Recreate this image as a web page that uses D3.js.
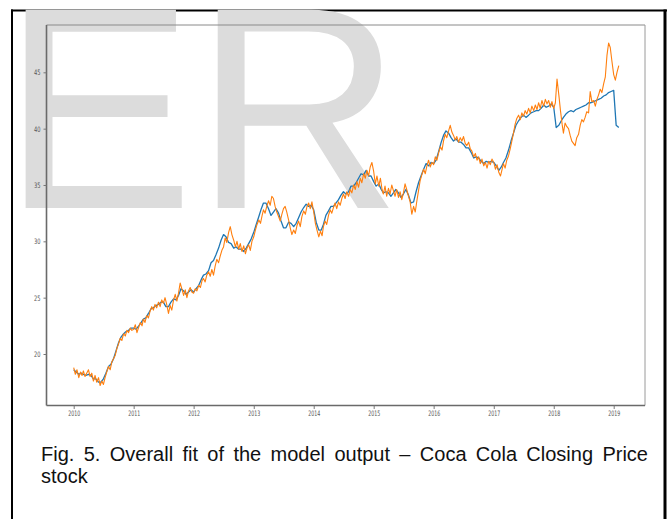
<!DOCTYPE html>
<html>
<head>
<meta charset="utf-8">
<script src="https://cdn.jsdelivr.net/npm/d3@7"></script>
<style>
  body { margin: 0; background: #fff; }
  svg { display: block; }
</style>
</head>
<body>
<svg id="chart" width="667" height="519"></svg>
<script>
// ---- data -------------------------------------------------------------
const yearTicks = [2010, 2011, 2012, 2013, 2014, 2015, 2016, 2017, 2018, 2019];
const priceTicks = [20, 25, 30, 35, 40, 45];

// closing price, sampled on the 1st, 11th and 21st of each month (Jan 2010 – Feb 2019)
const actualClose = [
  // 2010
  18.8, 18.2, 18.6, 17.9, 18.4, 18.1, 18.5, 18.0, 18.3, 18.6, 18.0, 18.3,
  17.6, 18.1, 17.5, 17.9, 17.2, 17.6, 17.3, 17.9, 18.4, 18.9, 18.6, 19.3,
  19.6, 19.9, 20.5, 20.9, 21.4, 21.2, 21.8, 21.6, 22.1, 21.9, 22.3, 22.1,
  // 2011
  22.2, 22.6, 21.9, 22.4, 22.8, 22.5, 23.1, 22.8, 23.4, 23.2, 23.8, 24.2,
  23.9, 24.4, 24.1, 24.6, 24.2, 24.8, 24.5, 25.0, 24.4, 23.6, 24.3, 23.9,
  24.8, 25.3, 24.7, 25.4, 26.3, 25.8, 25.2, 25.7, 25.0, 25.6, 25.9, 25.5,
  // 2012
  25.4, 25.8, 25.6, 26.1, 25.9, 26.5, 26.7, 26.4, 27.0, 27.3, 26.9, 27.5,
  27.0, 27.8, 28.4, 28.1, 28.7, 29.2, 29.5, 30.3, 29.9, 30.8, 31.3, 30.6,
  30.1, 29.5, 30.0, 29.3, 29.8, 29.1, 29.6, 28.9, 29.4, 29.7, 29.2, 30.0,
  // 2013
  30.4, 31.0, 31.5, 31.9, 31.6, 32.3, 32.8, 32.5, 33.1, 33.6, 33.2, 34.0,
  33.8, 33.1, 32.6, 32.2, 31.8, 32.4, 32.9, 33.1, 32.6, 31.9, 31.2, 30.6,
  31.0, 30.7, 31.4, 31.8, 31.3, 32.2, 32.7, 32.4, 33.1, 33.4, 32.9, 33.5,
  // 2014
  32.6, 31.6, 31.0, 30.4, 30.9, 30.5, 31.3, 31.8, 31.5, 32.3, 32.8, 32.5,
  33.0, 33.4, 32.9, 33.5, 33.2, 33.8, 34.2, 33.8, 34.4, 34.0, 34.6, 34.3,
  35.0, 34.6, 35.3, 34.8, 35.6, 35.2, 36.0, 35.6, 36.3, 35.8, 36.6, 37.0,
  // 2015
  36.2, 35.1, 35.8, 34.9, 35.6, 34.6, 34.2, 34.9, 34.0, 34.7, 34.2, 35.0,
  34.5, 34.0, 34.6, 33.9, 34.4, 33.7, 34.3, 35.1, 34.6, 34.0, 33.5, 32.4,
  33.1, 32.6, 33.6, 34.5, 35.4, 35.9, 36.4, 36.0, 36.7, 37.2, 36.6, 37.0,
  // 2016
  36.8, 37.5, 37.2, 37.9, 38.4, 38.1, 38.9, 39.5, 39.2, 39.8, 40.3, 39.7,
  39.4, 39.0, 39.3, 38.8, 39.2, 38.9, 39.3, 38.7, 38.5, 38.8, 38.2, 38.0,
  37.5, 37.8, 37.2, 37.5, 36.9, 37.3, 36.7, 37.0, 36.5, 37.1, 36.8, 37.3,
  // 2017
  37.0, 36.4, 36.8, 36.1, 35.8, 36.4, 36.9, 36.5, 37.2, 37.6, 38.2, 38.9,
  39.6, 40.4, 40.9, 41.2, 40.8, 41.4, 41.1, 41.6, 41.3, 41.8, 41.4, 42.0,
  41.6, 42.1, 41.7, 42.3, 41.8, 42.5, 42.0, 42.6, 42.2, 42.5, 41.9, 42.4,
  // 2018
  41.8, 42.3, 44.4, 43.0, 41.6, 40.4, 39.6, 40.5, 40.2, 40.0, 39.4, 38.9,
  38.7, 38.5, 39.2, 39.5, 40.3, 40.8, 40.6, 41.0, 41.5, 41.4, 43.3, 42.4,
  42.5, 42.0, 42.6, 43.0, 43.5, 43.2, 44.0, 44.6, 46.5, 47.6, 47.2, 46.0,
  // 2019
  44.8, 44.3, 45.0, 45.6
];

// model output, sampled on the 1st and 16th of each month
const modelOutput = [
  // 2010
  18.6, 18.4, 18.2, 18.3, 18.2, 18.1, 18.2, 18.1, 17.8, 17.8, 17.5, 17.5,
  17.8, 18.3, 18.9, 19.1, 19.6, 20.3, 21.0, 21.5, 21.8, 22.0, 22.1, 22.3,
  // 2011
  22.3, 22.2, 22.5, 22.8, 23.1, 23.2, 23.6, 24.0, 24.1, 24.3, 24.4, 24.6,
  24.6, 24.2, 24.2, 24.6, 24.9, 24.8, 25.2, 25.8, 25.6, 25.3, 25.5, 25.7,
  // 2012
  25.5, 25.8, 26.1, 26.6, 27.0, 27.1, 27.4, 28.1, 28.3, 28.8, 29.4, 30.1,
  30.6, 30.4, 29.9, 29.8, 29.4, 29.5, 29.3, 29.3, 29.1, 29.4, 29.8, 30.2,
  // 2013
  30.8, 31.5, 32.2, 32.9, 33.4, 33.4, 32.9, 32.3, 32.6, 32.9, 32.5, 31.8,
  31.2, 31.2, 31.7, 31.6, 31.3, 31.6, 32.1, 32.6, 33.0, 33.3, 33.1, 33.2,
  // 2014
  32.8, 31.7, 31.0, 31.0, 31.5, 32.3, 32.7, 33.1, 33.1, 33.4, 33.7, 34.1,
  34.4, 34.2, 34.4, 34.9, 34.9, 35.2, 35.6, 36.0, 35.9, 36.3, 35.8, 35.8,
  // 2015
  35.3, 34.9, 35.1, 34.6, 34.3, 34.4, 34.3, 34.0, 34.3, 34.6, 34.3, 33.9,
  34.2, 34.6, 34.1, 33.4, 33.5, 34.4, 35.2, 35.8, 36.4, 36.9, 36.7, 37.0,
  // 2016
  36.9, 37.2, 38.0, 38.8, 39.4, 39.8, 39.6, 39.2, 38.9, 39.1, 38.8, 38.8,
  38.6, 38.3, 38.3, 37.9, 37.4, 37.5, 37.4, 37.1, 36.9, 37.1, 37.0, 37.1,
  // 2017
  37.0, 36.7, 36.3, 36.6, 37.0, 37.4, 38.1, 38.9, 39.6, 40.3, 40.7, 41.0,
  41.2, 41.0, 41.2, 41.4, 41.5, 41.6, 41.6, 41.8, 42.1, 41.9, 42.0, 42.2,
  // 2018
  41.9, 40.1, 40.3, 40.7, 41.0, 41.3, 41.5, 41.6, 41.5, 41.7, 41.8, 41.9,
  42.0, 42.1, 42.3, 42.3, 42.4, 42.5, 42.6, 42.7, 42.9, 43.0, 43.2, 43.3,
  // 2019
  43.4, 40.3, 40.1
];

const captionLines = [
  "Fig. 5. Overall fit of the model output – Coca Cola Closing Price",
  "stock"
];
const watermarkText = "ER";

// sampling calendars for the two series
const lastDate = new Date(2019, 1, 1);
function sampleCalendar(days) {
  const out = [];
  for (let yr = 2010; yr <= 2019; yr++) {
    for (let m = 0; m < 12; m++) {
      for (const d of days) {
        const dt = new Date(yr, m, d);
        if (dt <= lastDate) out.push(dt);
      }
    }
  }
  return out;
}
const actualDates = sampleCalendar([1, 11, 21]);
const modelDates = sampleCalendar([1, 16]);

// ---- layout -----------------------------------------------------------
const svg = d3.select("#chart");
const plot = { left: 46.5, right: 645, top: 25, bottom: 405.5 };

const x = d3.scaleTime()
  .domain([new Date(2010, 0, 1), new Date(2019, 0, 1)])
  .range([73.7, 613.7]);
const y = d3.scaleLinear()
  .domain([15.43, 49.2])
  .range([plot.bottom, plot.top]);

// outer page frame
svg.append("line").attr("x1", 11).attr("x2", 667).attr("y1", 10.5).attr("y2", 10.5)
  .attr("stroke", "#000").attr("stroke-width", 2);
svg.append("line").attr("x1", 12).attr("x2", 12).attr("y1", 9.5).attr("y2", 519)
  .attr("stroke", "#000").attr("stroke-width", 2);
svg.append("line").attr("x1", 665).attr("x2", 665).attr("y1", 9.5).attr("y2", 519)
  .attr("stroke", "#000").attr("stroke-width", 3);

// large grey watermark behind the plot
svg.append("text")
  .attr("x", 2).attr("y", 208)
  .attr("font-family", "'Liberation Sans', Arial, sans-serif")
  .attr("font-size", 288)
  .attr("fill", "#dcdcdc")
  .text(watermarkText);

// plot frame (top / right spines lighter)
svg.append("line").attr("x1", plot.left).attr("x2", plot.right).attr("y1", plot.top).attr("y2", plot.top)
  .attr("stroke", "#8a8a8a").attr("stroke-width", 1);
svg.append("line").attr("x1", plot.right).attr("x2", plot.right).attr("y1", plot.top).attr("y2", plot.bottom)
  .attr("stroke", "#9a9a9a").attr("stroke-width", 1);

// axes
const tickFont = "'DejaVu Sans', sans-serif";
const xAxis = svg.append("g")
  .attr("transform", `translate(0,${plot.bottom})`)
  .call(d3.axisBottom(x)
    .tickValues(yearTicks.map(yr => new Date(yr, 0, 1)))
    .tickFormat(d3.timeFormat("%Y"))
    .tickSize(3.5).tickPadding(2));
xAxis.select(".domain").attr("d", `M${plot.left},0H${plot.right}`)
  .attr("stroke", "#6a6a6a").attr("stroke-width", 1.4);
xAxis.selectAll(".tick line").attr("stroke", "#777");
xAxis.selectAll(".tick text")
  .attr("font-family", tickFont).attr("font-size", 7.5).attr("fill", "#555")
  .attr("textLength", 12).attr("lengthAdjust", "spacingAndGlyphs");

const yAxis = svg.append("g")
  .attr("transform", `translate(${plot.left},0)`)
  .call(d3.axisLeft(y).tickValues(priceTicks).tickFormat(d3.format("d"))
    .tickSize(3).tickPadding(3));
yAxis.select(".domain").attr("d", `M0,${plot.top}V${plot.bottom}`)
  .attr("stroke", "#6a6a6a").attr("stroke-width", 1.6);
yAxis.selectAll(".tick line").attr("stroke", "#777");
yAxis.selectAll(".tick text")
  .attr("font-family", tickFont).attr("font-size", 7.5).attr("fill", "#555")
  .attr("textLength", 6.5).attr("lengthAdjust", "spacingAndGlyphs");

// series: model output underneath, actual close on top
const modelLine = d3.line()
  .x((d, i) => x(modelDates[i]))
  .y(d => y(d));
const actualLine = d3.line()
  .x((d, i) => x(actualDates[i]))
  .y(d => y(d));

svg.append("path")
  .datum(modelOutput)
  .attr("d", modelLine)
  .attr("fill", "none")
  .attr("stroke", "#1f77b4")
  .attr("stroke-width", 1.3)
  .attr("stroke-linejoin", "round");

svg.append("path")
  .datum(actualClose)
  .attr("d", actualLine)
  .attr("fill", "none")
  .attr("stroke", "#ff7f0e")
  .attr("stroke-width", 1.1)
  .attr("stroke-linejoin", "round");

// caption, first line justified to the frame width
const cap = svg.append("g")
  .attr("font-family", "'Liberation Sans', Arial, sans-serif")
  .attr("font-size", 20)
  .attr("fill", "#111");
const capLeft = 41, capRight = 648;
const first = cap.append("text").attr("x", capLeft).attr("y", 461).text(captionLines[0]);
const natural = first.node().getComputedTextLength();
const gaps = captionLines[0].split(" ").length - 1;
first.attr("word-spacing", ((capRight - capLeft) - natural) / gaps);
cap.append("text").attr("x", capLeft).attr("y", 483).text(captionLines[1]);
</script>
</body>
</html>
